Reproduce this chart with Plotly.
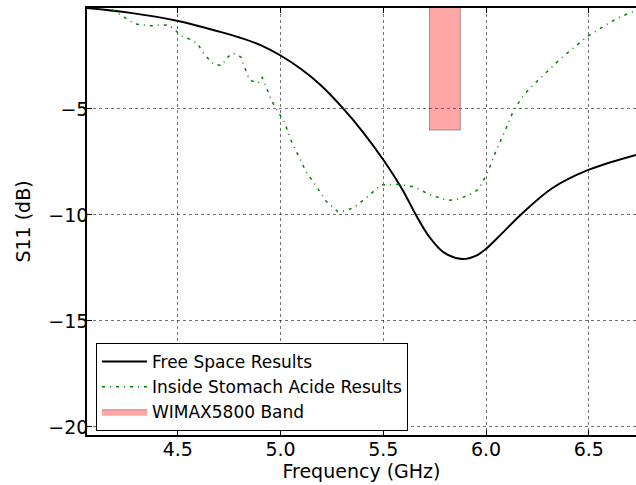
import plotly.graph_objects as go

# Free space results (frequency GHz, S11 dB)
free_f = [4.058, 4.27, 4.49, 4.70, 4.80, 4.90, 5.00, 5.10, 5.20, 5.30, 5.40, 5.50, 5.594,
          5.659, 5.723, 5.796, 5.885, 5.950, 5.998, 6.079, 6.168, 6.322, 6.492, 6.73]
free_s = [-0.24, -0.47, -0.83, -1.35, -1.63, -1.98, -2.48, -3.12, -3.92, -4.93, -6.08, -7.40,
          -8.82, -10.00, -11.02, -11.78, -12.08, -11.93, -11.62, -10.86, -10.00, -8.74,
          -7.90, -7.17]

# Inside stomach acid results
acid_f = [4.06, 4.12, 4.178, 4.25, 4.29, 4.331, 4.372, 4.412, 4.457, 4.490, 4.517, 4.558,
          4.598, 4.619, 4.651, 4.679, 4.716, 4.736, 4.768, 4.808, 4.820, 4.849, 4.889,
          4.910, 4.943, 4.959, 4.981, 5.00, 5.02, 5.05, 5.089, 5.124, 5.173, 5.218,
          5.278, 5.318, 5.359, 5.424, 5.489, 5.529, 5.57, 5.618, 5.656, 5.723, 5.772,
          5.812, 5.849, 5.888, 5.930, 5.962, 5.985, 6.001, 6.027, 6.038, 6.071, 6.103,
          6.135, 6.184, 6.241, 6.302, 6.362, 6.427, 6.492, 6.565, 6.638, 6.719]
acid_s = [0.30, 0.05, -0.30, -0.72, -0.99, -1.04, -1.08, -1.04, -1.05, -1.31, -1.56, -1.71,
          -1.93, -2.30, -2.66, -2.92, -2.94, -2.61, -2.37, -2.56, -2.92, -3.63, -3.79,
          -3.50, -4.26, -4.66, -5.01, -5.33, -5.65, -6.46, -7.22, -7.96, -8.63, -9.32,
          -9.84, -9.80, -9.64, -9.14, -8.58, -8.55, -8.55, -8.62, -8.70, -9.03, -9.21,
          -9.32, -9.29, -9.17, -9.00, -8.79, -8.43, -8.11, -7.56, -7.22, -6.54, -5.80,
          -5.05, -4.34, -3.76, -3.19, -2.64, -2.11, -1.59, -1.15, -0.72, -0.40]

# WIMAX 5800 band
band_f = [5.725, 5.875]
band_s = [-6.0, 0.0]

x_ticks = [4.5, 5.0, 5.5, 6.0, 6.5]
y_ticks = [-20, -15, -10, -5]

FONT = "DejaVu Sans"
GRID = "rgba(0,0,0,0.55)"

fig = go.Figure()
fig.add_trace(go.Scatter(
    x=free_f, y=free_s, mode="lines", name="Free Space Results",
    line=dict(color="black", width=2, shape="spline", smoothing=1.0),
))
fig.add_trace(go.Scatter(
    x=acid_f, y=acid_s, mode="lines", name="Inside Stomach Acide Results",
    line=dict(color="#008000", width=1.5, dash="3px,5px,1px,5px"),
))
fig.add_trace(go.Scatter(
    x=[band_f[0], band_f[1], band_f[1], band_f[0], band_f[0]],
    y=[band_s[0], band_s[0], band_s[1], band_s[1], band_s[0]],
    mode="lines", fill="toself", name="WIMAX5800 Band",
    fillcolor="rgba(255,0,0,0.35)", line=dict(color="rgba(0,0,0,0.33)", width=1),
))

fig.update_layout(
    width=636, height=485,
    margin=dict(l=87, r=0, t=8, b=50),
    paper_bgcolor="white", plot_bgcolor="white",
    font=dict(family=FONT, size=19, color="black"),
    showlegend=True,
    legend=dict(
        x=0.0164, y=0.2155, xanchor="left", yanchor="top",
        bgcolor="white", bordercolor="black", borderwidth=1,
        font=dict(family=FONT, size=17, color="black"),
        traceorder="normal", itemwidth=45,
    ),
)
fig.update_xaxes(
    range=[4.058, 6.73], tickvals=x_ticks, ticktext=[f"{v:.1f}" for v in x_ticks],
    showgrid=True, gridcolor=GRID, gridwidth=1, griddash="dot",
    showline=True, linecolor="black", linewidth=1.5, mirror="ticks",
    ticks="inside", ticklen=5, tickcolor="black", ticklabelstandoff=-4,
    zeroline=False,
    title=dict(text="Frequency (GHz)", font=dict(family=FONT, size=19), standoff=0),
)
fig.update_yaxes(
    range=[-20.38, -0.24], tickvals=y_ticks, ticktext=[f"\u2212{abs(v)}" for v in y_ticks],
    showgrid=True, gridcolor=GRID, gridwidth=1, griddash="dot",
    showline=True, linecolor="black", linewidth=1.5,
    ticks="inside", ticklen=5, tickcolor="black", ticklabelstandoff=-7,
    zeroline=False,
    title=dict(text="S11 (dB)", font=dict(family=FONT, size=19), standoff=13),
)

fig.write_html("out.html")
